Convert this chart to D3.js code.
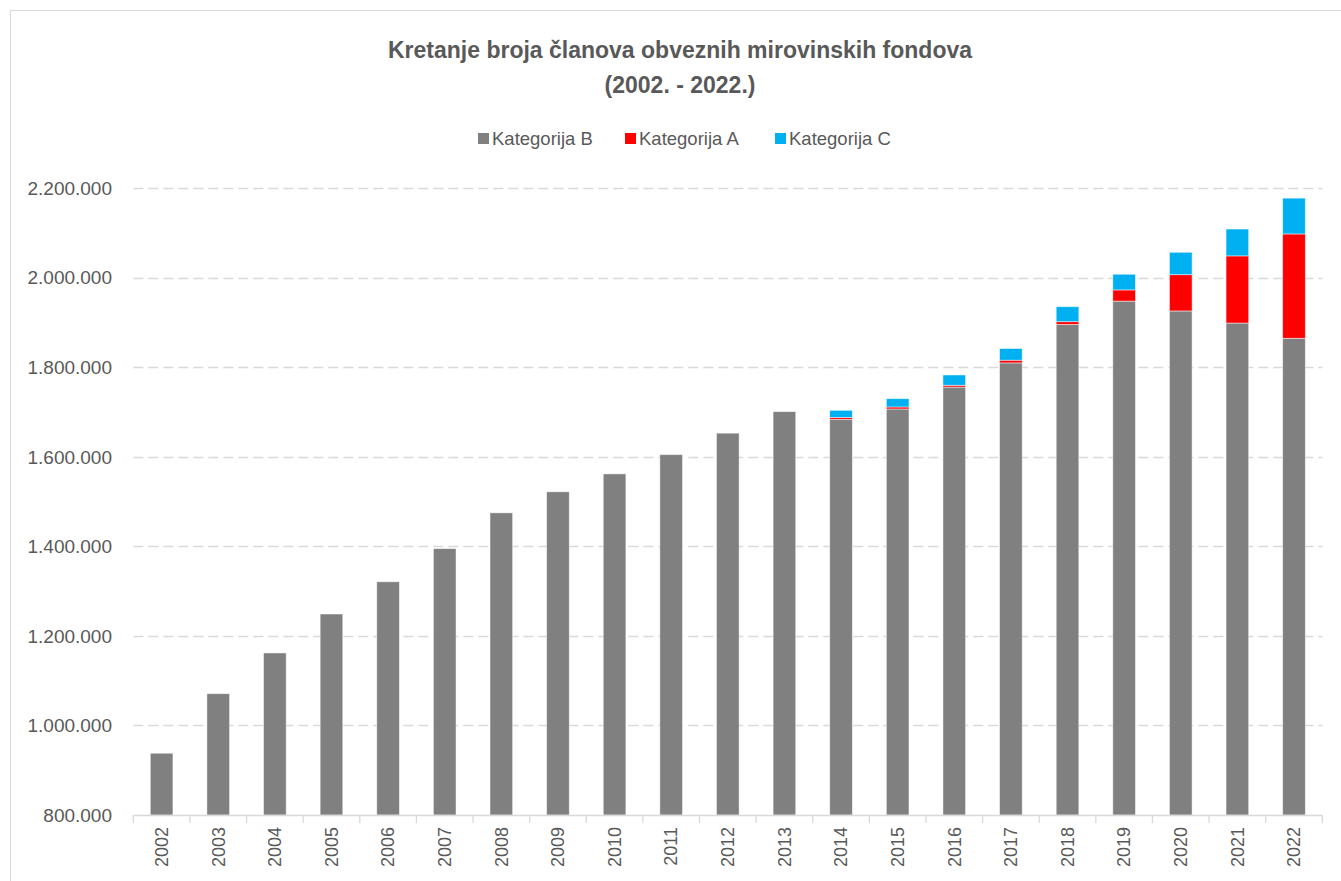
<!DOCTYPE html>
<html><head><meta charset="utf-8">
<script src="https://cdn.jsdelivr.net/npm/d3@7"></script>
<style>
body{margin:0;background:#fff;}
svg{display:block;font-family:"Liberation Sans",Arial,sans-serif;}
</style></head>
<body><svg id="c" width="1341" height="881"></svg>
<script>
const years = ["2002","2003","2004","2005","2006","2007","2008","2009","2010","2011","2012","2013","2014","2015","2016","2017","2018","2019","2020","2021","2022"];
const kategorijaB = [938000,1071000,1162000,1249000,1321000,1395000,1475000,1522000,1562000,1605000,1653000,1701000,1684000,1707000,1756000,1810000,1896000,1948000,1926000,1899000,1865000];
const kategorijaA = [0,0,0,0,0,0,0,0,0,0,0,0,4000,4500,4000,6000,6000,25000,81000,150000,233000];
const kategorijaC = [0,0,0,0,0,0,0,0,0,0,0,0,16000,18500,23000,26000,33500,35000,50000,60000,80000];
const seriesNames = ["Kategorija B","Kategorija A","Kategorija C"];
const seriesColors = ["#808080","#FF0000","#00B0F0"];
const yTicks = [800000,1000000,1200000,1400000,1600000,1800000,2000000,2200000];
const titleLines = ["Kretanje broja članova obveznih mirovinskih fondova","(2002. - 2022.)"];

const svg = d3.select("#c");
const W = 1341, H = 881;
const x0 = 133.3, x1 = 1322.3, yTop = 188.3, yBot = 815;

svg.append("rect").attr("x",10.5).attr("y",10.5).attr("width",W).attr("height",H)
  .attr("fill","#fff").attr("stroke","#d9d9d9").attr("stroke-width",1);

const locale = d3.formatLocale({decimal:",",thousands:".",grouping:[3],currency:["",""]});
const fmt = locale.format(",d");

const x = d3.scaleBand().domain(years).range([x0,x1]).paddingInner(0.6).paddingOuter(0.3);
const y = d3.scaleLinear().domain([800000,2200000]).range([yBot,yTop]);

svg.append("g").selectAll("line").data(yTicks.filter(t=>t>800000)).join("line")
  .attr("x1",x0).attr("x2",x1).attr("y1",d=>Math.round(y(d))+0.5).attr("y2",d=>Math.round(y(d))+0.5)
  .attr("stroke","#d9d9d9").attr("stroke-width",1.3).attr("stroke-dasharray","10,5");

svg.append("g").selectAll("text").data(yTicks).join("text")
  .attr("x",112).attr("y",d=>y(d)).attr("dy","0.35em").attr("text-anchor","end")
  .attr("font-size",19).attr("fill","#595959").text(d=>fmt(d));

const rows = years.map((yr,i)=>({year:yr,B:kategorijaB[i],A:kategorijaA[i],C:kategorijaC[i]}));
const stacked = d3.stack().keys(["B","A","C"])(rows);
svg.append("g").selectAll("g").data(stacked).join("g")
  .attr("fill",(d,i)=>seriesColors[i])
  .selectAll("rect").data(d=>d.filter(s=>s[1]-s[0]>0)).join("rect")
  .attr("x",d=>x(d.data.year)).attr("width",x.bandwidth())
  .attr("y",d=>y(d[1]))
  .attr("height",d=>y(Math.max(d[0],800000))-y(d[1]))
  .attr("stroke","#ffffff").attr("stroke-opacity",0.6).attr("stroke-width",0.8);

const ax = svg.append("g");
ax.append("line").attr("x1",x0).attr("x2",x1).attr("y1",yBot+0.5).attr("y2",yBot+0.5)
  .attr("stroke","#d9d9d9").attr("stroke-width",1.3);
const step = x.step();
const bounds = years.map(d=>x(d) - (step - x.bandwidth())/2);
bounds.push(x1);
ax.selectAll("line.t").data(bounds).join("line").attr("class","t")
  .attr("x1",d=>d).attr("x2",d=>d).attr("y1",yBot).attr("y2",yBot+8)
  .attr("stroke","#d9d9d9").attr("stroke-width",1.3);
ax.selectAll("text").data(years).join("text")
  .attr("transform",d=>`translate(${x(d)+x.bandwidth()/2},${yBot+12}) rotate(-90)`)
  .attr("text-anchor","end").attr("dy","0.35em")
  .attr("font-size",18).attr("fill","#595959").text(d=>d);

svg.append("g").selectAll("text").data(titleLines).join("text")
  .attr("x",680).attr("y",(d,i)=>58+i*35).attr("text-anchor","middle")
  .attr("font-size",23).attr("font-weight","bold").attr("fill","#595959").text(d=>d);

const legX = [478,625,775];
const lg = svg.append("g").selectAll("g").data(seriesNames).join("g")
  .attr("transform",(d,i)=>`translate(${legX[i]},139)`);
lg.append("rect").attr("x",0).attr("y",-6).attr("width",11).attr("height",11).attr("fill",(d,i)=>seriesColors[i]);
lg.append("text").attr("x",14).attr("dy","0.35em").attr("font-size",18.5).attr("fill","#595959").text(d=>d);
</script></body></html>
